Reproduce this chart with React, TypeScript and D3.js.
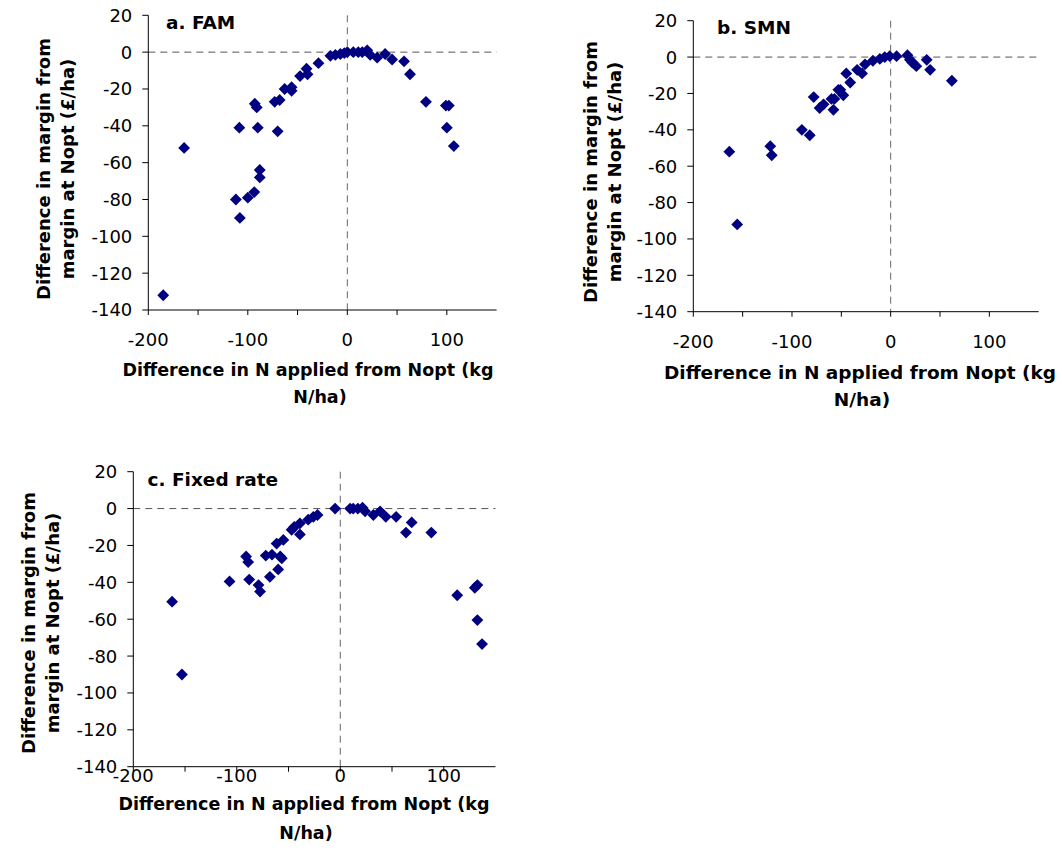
import React from "react";
import * as d3 from "d3";

// [N difference (kg N/ha), margin difference (£/ha)]
const famPoints: [number, number][] = [
  [-185, -132], [-164, -52], [-112, -80], [-108, -90], [-108.5, -41], [-100, -79],
  [-93.5, -76], [-93, -28], [-91, -30], [-90, -41], [-88, -64], [-88, -68],
  [-73, -27], [-70, -43], [-68, -26], [-63, -20], [-56, -19], [-56, -21],
  [-47.5, -13], [-41, -9], [-40, -12], [-29, -6], [-17, -2], [-12, -1.5], [-7, -1],
  [-3, -0.5], [0, 0], [6, 0], [11, 0], [15, 0], [20, 1], [23, -1.5], [30, -3],
  [38, -1], [45, -4], [57, -5], [63, -12], [79, -27], [99, -29], [102, -29],
  [100, -41], [107, -51],
];

const smnPoints: [number, number][] = [
  [-163.5, -52], [-155.5, -92], [-122, -49], [-120.5, -54], [-90, -40], [-82, -43],
  [-78, -22], [-72, -28], [-68, -26], [-60, -23], [-58, -29], [-57, -23], [-53, -18],
  [-51, -18], [-48, -21], [-45, -9], [-41, -14], [-34, -7], [-29, -9], [-26, -4],
  [-18, -2], [-11, -1], [-6, 0], [-1, 0.5], [6, 0.5], [17, 1], [19.5, -1.5],
  [22, -3], [26, -5], [36.5, -1.5], [40, -7], [62, -13],
];

const fixedPoints: [number, number][] = [
  [-162.5, -50.5], [-153, -90], [-107, -39.5], [-91, -26], [-89, -29], [-88, -38.5],
  [-79, -41.5], [-77.5, -45], [-72, -25.5], [-66, -25], [-68, -37], [-61.5, -19],
  [-60, -33], [-58, -26], [-56.5, -27], [-55, -17], [-47, -11.5], [-44.5, -10],
  [-39, -8], [-39, -14], [-31, -6], [-26, -4.5], [-22, -3.5], [-5, 0], [9.5, 0],
  [12.5, 0], [17, 0], [21.5, 0.5], [24, -1.5], [32, -3.5], [38.5, -1.5], [44, -4.5],
  [54, -4.5], [63.5, -13], [69, -7.5], [88, -13], [113, -47], [130, -43],
  [132.5, -41.5], [132.5, -60.5], [137, -73.5],
];

const yTicks = [20, 0, -20, -40, -60, -80, -100, -120, -140];
const xTicks = [-200, -150, -100, -50, 0, 50, 100];
const xLabels = [-200, -100, 0, 100];
const yTitle = ["Difference in margin from", "margin at Nopt (£/ha)"];
const xTitle = ["Difference in N applied from Nopt (kg", "N/ha)"];

const FONT = "DejaVu Sans";
const NAVY = "#000080";

const panels = [
  {
    title: "a. FAM", data: famPoints,
    px: [148.3, 496.6], py: [15.3, 310],
    titleAt: [166, 28.5],
    yTitleX: [50, 74], yTitleY: 169,
    xTitleX: [308, 320], xLabelDy: 36, xTitleDy: [66, 93], xTitleSize: 17.5,
  },
  {
    title: "b. SMN", data: smnPoints,
    px: [693.3, 1038.7], py: [20.7, 311.7],
    titleAt: [717, 33.5],
    yTitleX: [597, 621], yTitleY: 172,
    xTitleX: [860, 862], xLabelDy: 36, xTitleDy: [67, 94], xTitleSize: 18.5,
  },
  {
    title: "c. Fixed rate", data: fixedPoints,
    px: [133.3, 495.5], py: [471.7, 766.7],
    titleAt: [147.5, 486],
    yTitleX: [35, 59], yTitleY: 623,
    xTitleX: [304, 306], xLabelDy: 15, xTitleDy: [43, 72], xTitleSize: 17.5,
  },
];

const diamond = d3.symbol().type(d3.symbolSquare).size(70)();

function Panel({ p }: { p: (typeof panels)[number] }) {
  const x = d3.scaleLinear().domain([-200, 150]).range(p.px);
  const y = d3.scaleLinear().domain([20, -140]).range(p.py);
  const axisY = y(-140);
  return (
    <g>
      {/* reference lines */}
      <line x1={x(-200)} x2={x(150)} y1={y(0)} y2={y(0)} stroke="#555" strokeDasharray="7,5" />
      <line x1={x(0)} x2={x(0)} y1={y(20)} y2={y(-140)} stroke="#666" strokeDasharray="7,5" />

      {/* y axis */}
      <line x1={x(-200)} x2={x(-200)} y1={y(20)} y2={axisY} stroke="#000" />
      {yTicks.map((t) => (
        <g key={t}>
          <line x1={x(-200) - 6} x2={x(-200)} y1={y(t)} y2={y(t)} stroke="#000" />
          <text x={x(-200) - 16} y={y(t)} dy="0.36em" textAnchor="end" fontSize={18} fontFamily={FONT}>
            {t}
          </text>
        </g>
      ))}

      {/* x axis */}
      <line x1={x(-200)} x2={x(150)} y1={axisY} y2={axisY} stroke="#000" />
      {xTicks.map((t) => (
        <line key={t} x1={x(t)} x2={x(t)} y1={axisY} y2={axisY + 5} stroke="#000" />
      ))}
      {xLabels.map((t) => (
        <text key={t} x={x(t)} y={axisY + p.xLabelDy} textAnchor="middle" fontSize={18} fontFamily={FONT}>
          {t}
        </text>
      ))}

      {/* points */}
      {p.data.map((d, i) => (
        <path key={i} d={diamond} fill={NAVY}
          transform={`translate(${x(d[0])},${y(d[1])}) rotate(45)`} />
      ))}

      {/* titles */}
      <text x={p.titleAt[0]} y={p.titleAt[1]} fontSize={18.5} fontWeight="bold" fontFamily={FONT}>{p.title}</text>
      {yTitle.map((s, i) => (
        <text key={s} transform={`translate(${p.yTitleX[i]},${p.yTitleY}) rotate(-90)`}
          textAnchor="middle" fontSize={18} fontWeight="bold" fontFamily={FONT}>{s}</text>
      ))}
      {xTitle.map((s, i) => (
        <text key={s} x={p.xTitleX[i]} y={axisY + p.xTitleDy[i]}
          textAnchor="middle" fontSize={p.xTitleSize} fontWeight="bold" fontFamily={FONT}>{s}</text>
      ))}
    </g>
  );
}

export default function App() {
  return (
    <svg width={1062} height={867} style={{ position: "absolute", left: 0, top: 0, background: "#fff" }}>
      {panels.map((p) => <Panel key={p.title} p={p} />)}
    </svg>
  );
}
